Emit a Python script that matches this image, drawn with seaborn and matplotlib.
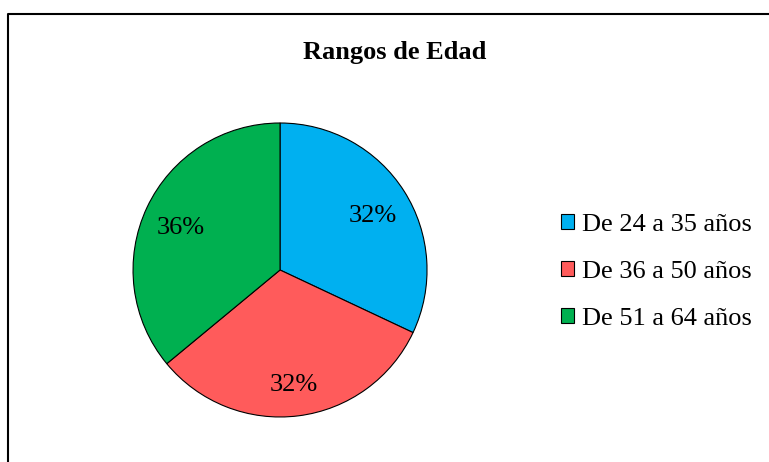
import matplotlib.pyplot as plt
import seaborn as sns
from matplotlib.patches import Patch
from matplotlib.lines import Line2D

categorias = ['De 24 a 35 años', 'De 36 a 50 años', 'De 51 a 64 años']
valores = [8, 8, 9]
colores = ['#00B0F0', '#FF5B5B', '#00B050']
titulo = 'Rangos de Edad'

sns.set_theme(style='white')
plt.rcParams['font.family'] = ['Liberation Serif', 'DejaVu Serif']
plt.rcParams['text.color'] = 'black'

fig = plt.figure(figsize=(7.69, 4.62), dpi=100)
fig.patch.set_facecolor('white')

# pie axes: center ~ (280, 270) px, radius ~147 px
ax = fig.add_axes([0.173, 0.0974, 0.3823, 0.6364])
wedges, texts, autotexts = ax.pie(
    valores, colors=colores, startangle=90, counterclock=False,
    autopct='%1.0f%%', pctdistance=0.75,
    wedgeprops=dict(edgecolor='black', linewidth=0.8),
    textprops=dict(fontsize=19, color='black'))
for t in autotexts:
    px, py = t.get_position()
    t.set_position((px, py - 0.035))
ax.set_xlim(-1.0, 1.0)
ax.set_ylim(-1.0, 1.0)
ax.set_aspect('equal')
ax.axis('off')

fig.text(395 / 769, (462 - 52) / 462, titulo, ha='center', va='center',
         fontsize=19, fontweight='bold', color='black')

handles = [Patch(facecolor=c, edgecolor='black', linewidth=0.8) for c in colores]
fig.legend(handles, categorias, loc='center left',
           bbox_to_anchor=(561 / 769, (462 - 272) / 462),
           frameon=False, fontsize=19, handlelength=0.5, handleheight=0.5,
           handletextpad=0.3, labelspacing=0.95, borderpad=0, borderaxespad=0)

# outer chart frame (left and top edges visible)
x0 = 8 / 769
y0 = (462 - 14) / 462
fig.add_artist(Line2D([x0, x0, 1.0], [0.0, y0, y0], transform=fig.transFigure,
                      color='black', linewidth=1.5))

fig.savefig('out.png', dpi=100)
